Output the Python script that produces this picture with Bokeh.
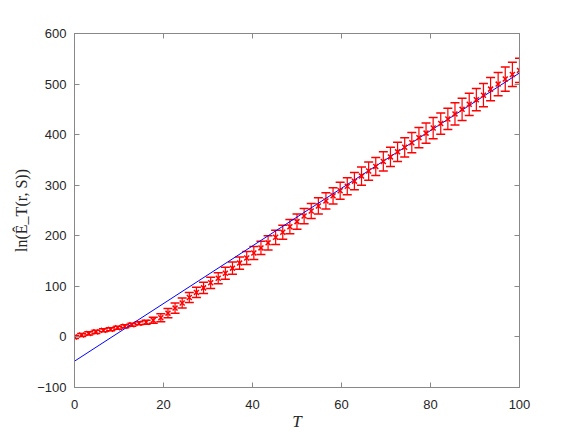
from bokeh.plotting import figure
from bokeh.models import Whisker, ColumnDataSource, LinearAxis, Range1d, FixedTicker, TeeHead
from bokeh.embed import file_html
from bokeh.resources import INLINE

# ---- data ----
T = [0.0, 1.6, 3.2, 4.8, 6.5, 8.1, 9.7, 11.3, 12.9, 14.5,
     16.1, 17.7, 19.4, 21.0, 22.6, 24.2, 25.8, 27.4, 29.0, 30.6,
     32.3, 33.9, 35.5, 37.1, 38.7, 40.3, 41.9, 43.5, 45.2, 46.8,
     48.4, 50.0, 51.6, 53.2, 54.8, 56.5, 58.1, 59.7, 61.3, 62.9,
     64.5, 66.1, 67.7, 69.4, 71.0, 72.6, 74.2, 75.8, 77.4, 79.0,
     80.6, 82.3, 83.9, 85.5, 87.1, 88.7, 90.3, 91.9, 93.5, 95.2,
     96.8, 98.4, 100.0]
lnE = [0, 4, 7, 10, 13, 15, 18, 21, 24, 27,
       29, 33, 38, 47, 57, 67, 78, 88, 97, 107,
       116, 126, 136, 146, 156, 166, 176, 186, 197, 207,
       218, 228, 239, 249, 259, 269, 279, 289, 298, 308,
       318, 328, 337, 347, 356, 366, 375, 384, 394, 403,
       413, 422, 431, 441, 450, 460, 469, 478, 490, 500,
       510, 519, 527]
err = [3, 3, 3, 3, 3, 3, 3, 3, 3, 3,
       4, 6, 8, 9, 10, 10, 10, 10, 11, 11,
       11, 12, 12, 12, 13, 13, 13, 14, 14, 14,
       14, 15, 15, 15, 16, 16, 16, 17, 17, 17,
       18, 18, 18, 19, 19, 19, 19, 20, 20, 20,
       21, 21, 21, 22, 22, 22, 22, 23, 23, 23,
       24, 24, 24]
fit_T = [0, 100]
fit_y = [-48, 522]
x_ticks = [0, 20, 40, 60, 80, 100]
y_ticks = [-100, 0, 100, 200, 300, 400, 500, 600]

src = ColumnDataSource(dict(
    T=T, y=lnE,
    up=[a + b for a, b in zip(lnE, err)],
    lo=[a - b for a, b in zip(lnE, err)],
))

p = figure(width=567, height=434, x_range=Range1d(0, 100), y_range=Range1d(-100, 600),
           output_backend="svg", toolbar_location=None,
           min_border_left=74, min_border_right=48, min_border_top=33, min_border_bottom=47,
           x_axis_label="T", y_axis_label="ln(Ê_T(r, S))")
p.xgrid.visible = False
p.ygrid.visible = False
p.outline_line_color = "#888888"
p.background_fill_color = "white"
p.border_fill_color = "white"

axcol = "#888888"
labcol = "#262626"

def style(ax, ticks, show_labels=True):
    ax.ticker = FixedTicker(ticks=ticks)
    ax.axis_line_color = axcol
    ax.major_tick_line_color = axcol
    ax.major_tick_in = 5
    ax.major_tick_out = 0
    ax.minor_tick_line_color = None
    ax.major_label_text_font = "Liberation Sans"
    ax.major_label_text_font_size = "13px"
    ax.major_label_text_color = labcol
    if not show_labels:
        ax.major_label_text_color = None
        ax.major_label_standoff = 0

for ax in p.xaxis:
    style(ax, x_ticks)
    ax.major_label_standoff = 12
    ax.axis_label_standoff = 0
    ax.axis_label_text_font = "Liberation Serif"
    ax.axis_label_text_font_style = "italic"
    ax.axis_label_text_font_size = "17px"
    ax.axis_label_text_color = labcol
for ax in p.yaxis:
    style(ax, y_ticks)
    ax.major_label_standoff = 8
    ax.axis_label_standoff = 4
    ax.axis_label_text_font = "Liberation Serif"
    ax.axis_label_text_font_style = "normal"
    ax.axis_label_text_font_size = "16px"
    ax.axis_label_text_color = labcol

top = LinearAxis()
style(top, x_ticks, show_labels=False)
p.add_layout(top, "above")
right = LinearAxis()
style(right, y_ticks, show_labels=False)
p.add_layout(right, "right")

p.line(fit_T, fit_y, line_color="blue", line_width=1)

w = Whisker(base="T", upper="up", lower="lo", source=src, line_color="red", line_width=1.2,
            upper_head=TeeHead(size=9, line_color="red", line_width=1.5),
            lower_head=TeeHead(size=9, line_color="red", line_width=1.5))
p.add_layout(w)
p.scatter("T", "y", source=src, marker="x", size=7, line_color="red", line_width=1.5)

open("out.html", "w").write(file_html(p, INLINE))
